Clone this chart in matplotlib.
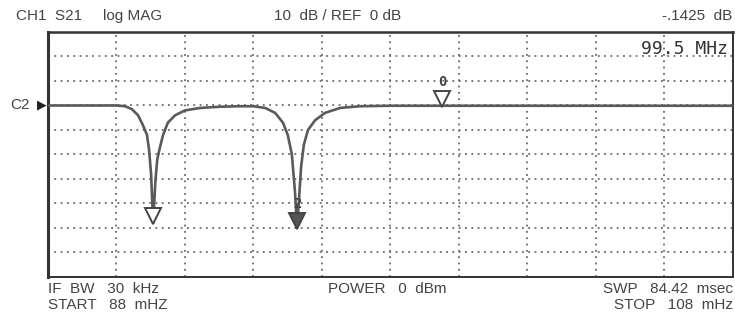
import numpy as np
import matplotlib
matplotlib.use("Agg")
import matplotlib.pyplot as plt
from matplotlib.transforms import offset_copy

# trace (MHz, dB)
freq = [88.0, 89.0, 90.0, 90.25, 90.45, 90.63, 90.77, 90.89, 90.95, 91.01, 91.04,
        91.07, 91.10, 91.14, 91.19, 91.27, 91.36, 91.50, 91.71, 92.0, 92.44, 93.02,
        93.6, 94.0, 94.34, 94.63, 94.86, 95.0, 95.12, 95.21, 95.27, 95.33, 95.39,
        95.47, 95.59, 95.80, 96.09, 96.53, 97.1, 98.0, 100.0, 104.0, 108.0]
s21_db = [0.0, 0.0, 0.0, -0.3, -1.5, -4.0, -8.0, -12.0, -18.0, -28.0, -38.0,
          -48.0, -40.0, -30.0, -22.0, -17.0, -12.0, -7.0, -4.0, -2.0, -1.0, -0.5,
          -0.3, -0.3, -1.0, -3.0, -7.0, -12.0, -20.0, -35.0, -50.0, -38.0, -25.0,
          -16.0, -10.0, -6.0, -3.0, -1.0, -0.3, -0.1, -0.1, -0.1, -0.1]

marker_freq = [91.07, 95.27, 99.5]
marker_fill = ["white", "#555555", "white"]
marker_label = ["", "2", "0"]

ref_db = 0
start_mhz, stop_mhz = 88, 108

plt.rcParams['font.family'] = ['Liberation Sans', 'DejaVu Sans']
fig = plt.figure(figsize=(7.35, 3.12), dpi=100)
ax = fig.add_axes([48/735, 35/312, 685/735, 245/312])

ax.plot(freq, s21_db, color="#5a5a5a", lw=1.9, zorder=3)

# markers: downward triangles with the tip on the trace
mvals = np.interp(marker_freq, freq, s21_db)
tr = offset_copy(ax.transData, fig=fig, y=7, units='dots')
for f, v, fc, lab in zip(marker_freq, mvals, marker_fill, marker_label):
    ax.plot(f, v, marker='v', ms=11.5, mfc=fc, mec="#444444", mew=1.4,
            transform=tr, zorder=4)
    if lab:
        ax.text(f, v, lab, transform=offset_copy(ax.transData, fig=fig, y=17, units='dots'),
                ha='center', va='bottom', fontsize=10, fontweight='bold',
                family='DejaVu Sans Mono', color="#444444", zorder=5)

ax.set_xlim(start_mhz, stop_mhz)
ax.set_ylim(-70, 30)
ax.set_xticks(np.arange(start_mhz, stop_mhz + 1, 2))
ax.set_yticks(np.arange(-70, 31, 10))
ax.grid(True, color="#6a6a6a", linestyle=(0, (1, 2.5)), lw=1.3)
ax.tick_params(length=0, labelbottom=False, labelleft=False)
for side, sp in ax.spines.items():
    sp.set_color("#333333")
    sp.set_linewidth(1.4)
ax.spines['left'].set_linewidth(2.2)
ax.spines['top'].set_linewidth(1.8)

tc = "#444444"
fs = 11
top_y = 1 - 16/312
fig.text(16/735, top_y, "CH1  S21", fontsize=fs, color=tc, va='center')
fig.text(103/735, top_y, "log MAG", fontsize=fs, color=tc, va='center')
fig.text(274/735, top_y, "10  dB / REF  0 dB", fontsize=fs, color=tc, va='center')
fig.text(732/735, top_y, "-.1425  dB", fontsize=fs, color=tc, va='center', ha='right')
fig.text(48/735, 1 - 289/312, "IF  BW   30  kHz", fontsize=fs, color=tc, va='center')
fig.text(48/735, 1 - 305/312, "START   88  mHZ", fontsize=fs, color=tc, va='center')
fig.text(328/735, 1 - 289/312, "POWER   0  dBm", fontsize=fs, color=tc, va='center')
fig.text(733/735, 1 - 289/312, "SWP   84.42  msec", fontsize=fs, color=tc, va='center', ha='right')
fig.text(733/735, 1 - 305/312, "STOP   108  mHz", fontsize=fs, color=tc, va='center', ha='right')
fig.text(10/735, 1 - 105/312, "C2", fontsize=fs, color=tc, va='center')
fig.text(37/735, 1 - 105/312, "\u25b6", fontsize=9, color="#222222", va='center',
         family='DejaVu Sans')
ax.text(0.992, 1 - 17/245, "99.5 MHz", transform=ax.transAxes, ha='right', va='center',
        fontsize=13, family='DejaVu Sans Mono', color="#333333")

fig.savefig("out.png", dpi=100)
